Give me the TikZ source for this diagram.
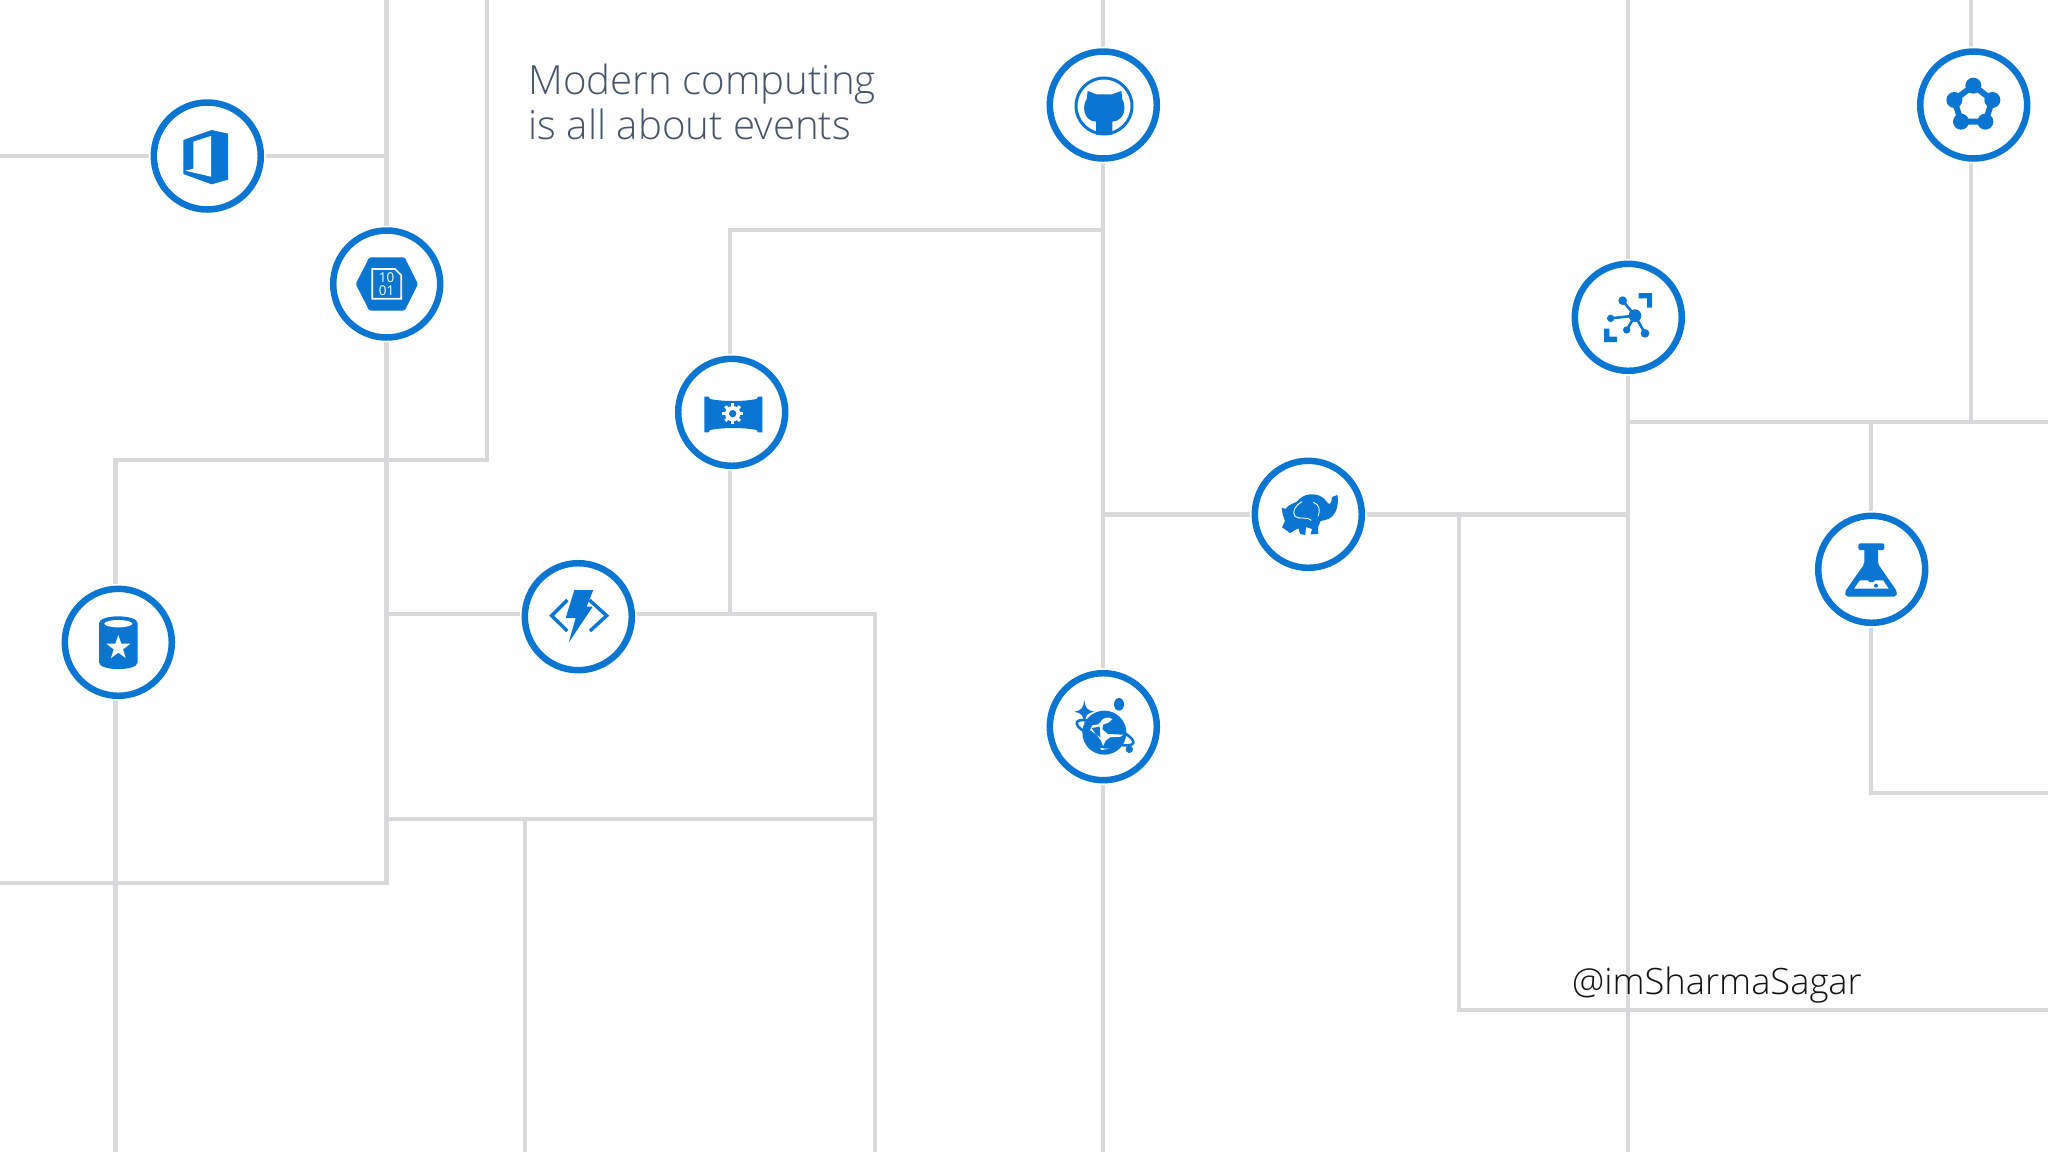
\documentclass[tikz,border=0pt]{standalone}
\usepackage{fontspec}
\setmainfont{Open Sans}
\newfontfamily\thinfont[UprightFont=* Light]{Open Sans}
\usetikzlibrary{backgrounds}
\definecolor{azure}{HTML}{0A76D2}
\definecolor{wirec}{HTML}{D9D9DC}
\definecolor{slate}{HTML}{46546B}
\tikzset{
  wire/.style={draw=wirec,line width=4.4pt},
  hub/.style={circle,draw=azure,line width=6.5pt,fill=white,minimum size=107pt,inner sep=0pt,outer sep=0pt,
     preaction={draw=white,line width=10pt}},
  ic/.style={fill=azure,draw=none},
  ico/.style={draw=azure,fill=none},
  cut/.style={fill=white,draw=none},
  title/.style={anchor=north west,inner sep=0pt,align=left,text=slate,font=\thinfont\fontsize{40.2}{45}\selectfont},
  handle/.style={anchor=base west,inner sep=0pt,text=black!92,font=\thinfont\fontsize{36.3}{40}\selectfont}
}
\begin{document}
\begin{tikzpicture}[x=1pt,y=-1pt]
\useasboundingbox (0,0) rectangle (2048,1152);
% hubs
\node[hub] (office) at (207.3,156) {};
\node[hub] (storage) at (386.7,284) {};
\node[hub] (github) at (1103.3,105) {};
\node[hub] (fabric) at (1973.7,105) {};
\node[hub] (iot) at (1628.3,317.3) {};
\node[hub] (gear) at (731.7,412.3) {};
\node[hub] (hadoop) at (1308.3,514.3) {};
\node[hub] (flask) at (1871.7,569.3) {};
\node[hub] (func) at (578.3,616.7) {};
\node[hub] (sqldb) at (118.3,642.3) {};
\node[hub] (cosmos) at (1103.3,726.7) {};
% free ends and corners
\coordinate (a1) at (0,156);      \coordinate (a2) at (386.5,156);
\coordinate (b0) at (386.5,0);    \coordinate (b1) at (386.5,883);  \coordinate (b2) at (0,883);
\coordinate (c0) at (487,0);      \coordinate (c1) at (487,460);    \coordinate (c2) at (115.5,460); \coordinate (c3) at (115.5,1152);
\coordinate (d0) at (386.5,614);  \coordinate (d1) at (875,614);    \coordinate (d2) at (875,1152);
\coordinate (e0) at (386.5,819);  \coordinate (e1) at (875,819);
\coordinate (e2) at (525,819);    \coordinate (e3) at (525,1152);
\coordinate (f0) at (1103,230);   \coordinate (f1) at (730,230);    \coordinate (f2) at (730,614);
\coordinate (g0) at (1103,0);     \coordinate (g1) at (1103,1152);
\coordinate (h0) at (1103,514.3); \coordinate (h1) at (1628,514.3);
\coordinate (i0) at (1628,0);     \coordinate (i1) at (1628,1152);
\coordinate (j0) at (1459,514.3); \coordinate (j1) at (1459,1010);  \coordinate (j2) at (2048,1010);
\coordinate (k0) at (1628,422);   \coordinate (k1) at (2048,422);
\coordinate (m0) at (1971,0);     \coordinate (m1) at (1971,422);
\coordinate (n0) at (1871,422);   \coordinate (n1) at (1871,793);   \coordinate (n2) at (2048,793);
\begin{scope}[on background layer]
\fill[white!99.5!black] (0,0) rectangle (2048,1152);
\draw[wire] (a1) -- (a1 -| office) -- (a2);
\draw[wire] (b0) -- (b0 |- storage) -- (b1) -- (b2);
\draw[wire] (c0) -- (c1) -- (c2) -- (c2 |- sqldb) -- (c3);
\draw[wire] (d0) -- (d0 -| func) -- (d1) -- (d2);
\draw[wire] (e0) -- (e1);
\draw[wire] (e2) -- (e3);
\draw[wire] (f0) -- (f1) -- (f1 |- gear) -- (f2);
\draw[wire] (g0) -- (g0 |- github) -- (g0 |- cosmos) -- (g1);
\draw[wire] (h0) -- (h0 -| hadoop) -- (h1);
\draw[wire] (i0) -- (i0 |- iot) -- (i1);
\draw[wire] (j0) -- (j1) -- (j2);
\draw[wire] (k0) -- (k1);
\draw[wire] (m0) -- (m0 |- fabric) -- (m1);
\draw[wire] (n0) -- (n0 |- flask) -- (n1) -- (n2);
\end{scope}
% office icon
\begin{scope}[shift={(130,80)},scale=1/3]
\fill[ic] (160,180) -- (245,150) -- (294,161) -- (294,299) -- (245,313) -- (160,282) -- cycle;
\fill[cut] (190,185) -- (243,168) -- (243,290) -- (166,272) -- (190,266) -- cycle;
\end{scope}
% storage icon
\begin{scope}[shift={(130,80)},scale=1/3]
\fill[ic,rounded corners=1.5pt] (677,612) -- (718,532) -- (824,532) -- (864,612) -- (824,692) -- (718,692) -- cycle;
\draw[white,line width=1.7pt] (727,567) -- (795,567) -- (814,586) -- (814,656) -- (727,656) -- cycle;
\node[inner sep=0pt,text=white,align=center,font=\fontsize{13.5}{12.8}\selectfont] (bits) at (770,612) {10\\01};
\end{scope}
% github icon
\begin{scope}[shift={(1030,30)},scale=1/3]
\draw[ico,line width=3pt] (222,228) circle[radius=84];
\fill[ic] (173,183) -- (200,193) -- (245,193) -- (274,183) -- (277,208) .. controls (288,225) and (288,272) .. (247,275) -- (247,314) -- (198,314) -- (198,275) .. controls (157,272) and (157,225) .. (170,208) -- cycle;
\end{scope}
% network ring icon
\begin{scope}[shift={(1900,30)},scale=1/3]
\draw[ico,line width=6pt] (220,167) -- (277,210) -- (256,275) -- (183,275) -- (163,210) -- cycle;
\foreach \p/\q in {220/167,277/210,256/275,183/275,163/210}
  \fill[ic] (\p,\q) circle[radius=24];
\end{scope}
% iot icon
\begin{scope}[shift={(1560,250)},scale=1/3]
\draw[ico,line width=2.6pt] (225,197) -- (188,152) (225,197) -- (152,205) (225,197) -- (200,240) (225,197) -- (255,250);
\fill[ic] (225,197) circle[radius=19] (188,152) circle[radius=13] (152,205) circle[radius=11] (200,240) circle[radius=11] (255,250) circle[radius=13];
\fill[ic] (236,129) -- (276,129) -- (276,173) -- (261,173) -- (261,145) -- (236,145) -- cycle;
\fill[ic] (132,236) -- (148,236) -- (148,260) -- (171,260) -- (171,276) -- (132,276) -- cycle;
\end{scope}
% gear banner icon
\begin{scope}[shift={(660,345)},scale=1/3]
\fill[ic] (133,155) -- (146,155) -- (150,162) .. controls (190,170) and (250,170) .. (290,162) -- (294,155) -- (307,155) -- (307,262) -- (294,262) -- (290,255) .. controls (250,247) and (190,247) .. (150,255) -- (146,262) -- (133,262) -- cycle;
\foreach \a in {0,45,...,315}
  \draw[white,line width=3pt] (218,206) -- ++(\a:31);
\fill[cut] (218,206) circle[radius=23];
\fill[ic] (218,206) circle[radius=11];
\end{scope}
% elephant icon
\begin{scope}[shift={(1240,445)},scale=1/3]
\fill[ic] (125,188) -- (137,192) .. controls (150,172) and (168,178) .. (178,162) .. controls (198,142) and (242,142) .. (260,170) .. controls (268,182) and (274,178) .. (276,156) -- (292,150) .. controls (298,180) and (288,218) .. (256,225) -- (242,228) -- (234,246) -- (234,267) -- (212,268) -- (216,252) -- (198,246) -- (196,270) -- (180,267) -- (176,250) -- (165,255) -- (150,264) -- (126,247) -- (135,228) -- (128,208) -- cycle;
\draw[white,line width=.9pt] (186,170) .. controls (165,182) and (155,200) .. (165,214) .. controls (175,224) and (205,214) .. (214,226);
\draw[white,line width=.9pt] (220,172) .. controls (238,178) and (242,195) .. (234,214);
\end{scope}
% flask icon
\begin{scope}[shift={(1800,500)},scale=1/3]
\fill[ic,rounded corners=2pt] (175,130) -- (253,130) -- (253,150) -- (175,150) -- cycle;
\fill[ic,rounded corners=2pt] (193,145) -- (234,145) -- (234,192) -- (292,276) -- (288,290) -- (138,290) -- (134,276) -- (193,192) -- cycle;
\fill[cut] (180,241) -- (249,241) -- (266,266) -- (162,266) -- cycle;
\fill[ic] (205,239) -- (224,239) .. controls (224,250) and (205,250) .. (205,239) -- cycle;
\fill[ic] (228,257) circle[radius=6];
\end{scope}
% function icon
\begin{scope}[shift={(510,550)},scale=1/3]
\draw[ico,line width=3.4pt] (172,150) -- (125,197) -- (172,243);
\draw[ico,line width=3.4pt] (238,150) -- (290,197) -- (240,243);
\fill[ic] (193,120) -- (250,120) -- (230,170) -- (248,170) -- (176,278) -- (197,204) -- (167,204) -- cycle;
\end{scope}
% database icon
\begin{scope}[shift={(50,575)},scale=1/3]
\fill[ic] (147,145) .. controls (147,117) and (263,117) .. (263,145) -- (263,262) .. controls (263,289) and (147,289) .. (147,262) -- cycle;
\fill[cut] (205,146) ellipse[x radius=42,y radius=11];
\fill[cut] (205,180) -- (214,206) -- (241,206) -- (219,223) -- (227,249) -- (205,233) -- (183,249) -- (191,223) -- (169,206) -- (196,206) -- cycle;
\end{scope}
% cosmos icon
\begin{scope}[shift={(1035,660)},scale=1/3]
\fill[ic] (148,120) .. controls (152,145) and (155,150) .. (178,155) .. controls (155,160) and (152,165) .. (148,190) .. controls (144,165) and (141,160) .. (118,155) .. controls (141,150) and (144,145) .. (148,120) -- cycle;
\fill[ic] (252,133) ellipse[x radius=15,y radius=19];
\fill[ic] (283,268) circle[radius=11];
\draw[ico,line width=2.6pt,rotate around={-20:(210,218)}] (210,218) ellipse[x radius=90,y radius=24];
\fill[ic] (208,218) circle[radius=66];
\fill[cut] (203,178) .. controls (215,170) and (226,172) .. (232,178) -- (220,188) -- (204,194) -- (202,208) -- (218,222) -- (264,224) -- (258,230) -- (225,232) -- (212,242) -- (204,258) -- (197,240) -- (185,224) -- (165,210) -- (172,196) -- (190,193) -- cycle;
\fill[ic] (170,204) -- (194,200) -- (196,232) -- (182,222) -- cycle;
\fill[cut] (195,264) .. controls (205,268) and (215,264) .. (222,266) -- (200,270) -- cycle;
\end{scope}
% texts
\node[title] (headline) at (528.5,64) {Modern computing\\is all about events};
\node[handle] (credit) at (1572,994) {@imSharmaSagar};
\end{tikzpicture}
\end{document}
